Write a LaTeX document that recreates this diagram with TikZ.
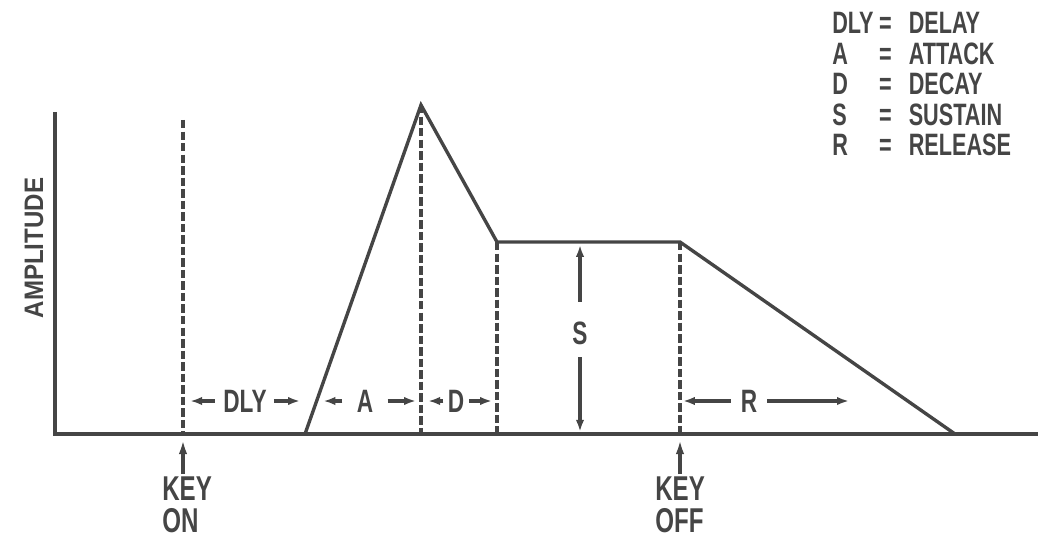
\documentclass[tikz,border=0pt]{standalone}
\usepackage{fontspec}
\newfontfamily\envfont[FakeStretch=0.7]{Liberation Sans}
\newfontfamily\ampfont[FakeStretch=0.9]{Liberation Sans}
\usetikzlibrary{arrows.meta,positioning}
\definecolor{inkgray}{HTML}{454545}

\begin{document}
\begin{tikzpicture}[
    x=0.025cm, y=-0.025cm,
    axis/.style={line width=2.4pt, draw=inkgray},
    curve/.style={line width=2.4pt, draw=inkgray, line join=miter},
    guide/.style={line width=2.4pt, draw=inkgray, dash pattern=on 6pt off 2.2pt},
    dimarrow/.style={-{Latex[length=3mm,width=2.1mm]}, line width=2.2pt, draw=inkgray},
    keyarrow/.style={-{Latex[length=3.6mm,width=2.1mm]}, line width=2.2pt, draw=inkgray},
    lbl/.style={text=inkgray, inner sep=0pt, font=\envfont\bfseries\fontsize{22}{21.3}\selectfont},
    dimlbl/.style={lbl, font=\envfont\bfseries\fontsize{23}{23}\selectfont},
    keylbl/.style={text=inkgray, inner sep=0pt, align=left, font=\envfont\bfseries\fontsize{24.5}{22.6}\selectfont}
]
    \useasboundingbox (0,0) rectangle (1038,538);

    % axes and envelope corners
    \coordinate (origin) at (55,434);
    \coordinate (ytop) at (55,112);
    \coordinate (xend) at (1038,434);
    \coordinate (keyon) at (183,434);
    \coordinate (keyontop) at (183,120);
    \coordinate (astart) at (305,434);
    \coordinate (peak) at (421,105);
    \coordinate (peakfoot) at (421,434);
    \coordinate (dend) at (497,242);
    \coordinate (dfoot) at (497,434);
    \coordinate (keyoff) at (680,242);
    \coordinate (keyofffoot) at (680,434);
    \coordinate (rend) at (955,434);
    \coordinate (rtip) at (849,401);

    \draw[axis] (ytop) -- (origin) -- (xend);
    \draw[curve] (astart) -- (peak) -- (dend) -- (keyoff) -- (rend);

    \draw[guide] (keyontop) -- (keyon);
    \draw[guide] (peak) -- (peakfoot);
    \draw[guide] (dend) -- (dfoot);
    \draw[guide] (keyoff) -- (keyofffoot);

    \node[lbl, rotate=90, font=\ampfont\bfseries\fontsize{19}{19}\selectfont] (amp) at (34,248) {AMPLITUDE};

    % interval labels
    \node[dimlbl] (dly) at (245,401) {DLY};
    \node[dimlbl] (att) at (365,401) {A};
    \node[dimlbl] (dec) at (456,401) {D};
    \node[dimlbl] (rel) at (749,401) {R};
    \node[dimlbl] (sus) at (580,333) {S};

    \draw[dimarrow, shorten <=6pt, shorten >=5pt] (dly.west) -- (dly.west -| keyon);
    \draw[dimarrow, shorten <=5pt, shorten >=3.5pt] (dly.east) -- (dly.east -| astart);
    \draw[dimarrow, shorten <=10pt, shorten >=13pt] (att.west) -- (att.west -| astart);
    \draw[dimarrow, shorten <=10pt, shorten >=3.5pt] (att.east) -- (att.east -| peak);
    \draw[dimarrow, shorten <=3pt, shorten >=5pt] (dec.west) -- (dec.west -| peak);
    \draw[dimarrow, shorten <=3.5pt, shorten >=3.5pt] (dec.east) -- (dec.east -| dend);
    \draw[dimarrow, shorten <=7pt, shorten >=2pt] (rel.west) -- (rel.west -| keyoff);
    \draw[dimarrow, shorten <=7pt] (rel.east) -- (rtip);
    \draw[dimarrow, shorten <=14pt, shorten >=2pt] (sus.north) -- (sus.north |- keyoff);
    \draw[dimarrow, shorten <=9pt, shorten >=1.5pt] (sus.south) -- (sus.south |- origin);

    % key events
    \node[keylbl, anchor=north west] (keyonlbl) at (162,477) {KEY\\ON};
    \node[keylbl, anchor=north west] (keyofflbl) at (655,477) {KEY\\OFF};
    \draw[keyarrow, shorten <=2pt, shorten >=4pt] (keyonlbl.north -| keyon) -- (keyon);
    \draw[keyarrow, shorten <=2pt, shorten >=4pt] (keyofflbl.north -| keyoff) -- (keyofffoot);

    \node[lbl, anchor=north west] (legend) at (832,12) {%
        \begin{tabular}{@{}l@{\hspace{4pt}}l@{\hspace{12pt}}l@{}}
            DLY & = & DELAY\\
            A & = & ATTACK\\
            D & = & DECAY\\
            S & = & SUSTAIN\\
            R & = & RELEASE
        \end{tabular}};
\end{tikzpicture}
\end{document}
